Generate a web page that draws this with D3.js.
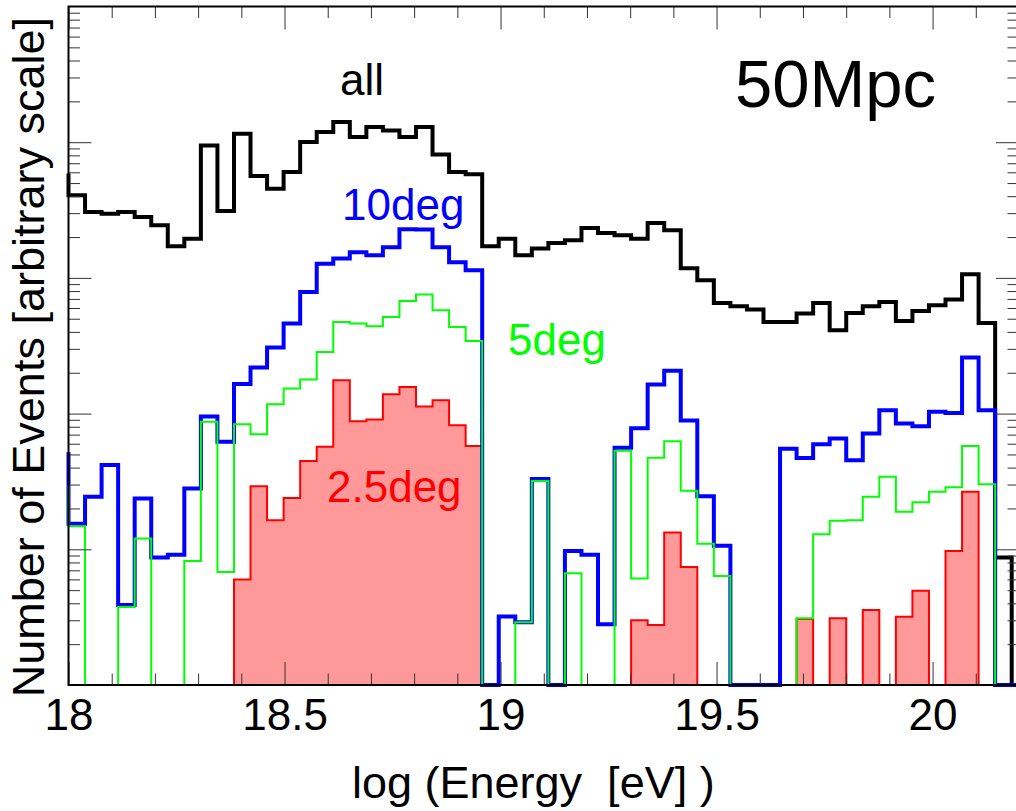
<!DOCTYPE html>
<html>
<head>
<meta charset="utf-8">
<script src="https://cdnjs.cloudflare.com/ajax/libs/d3/7.8.5/d3.min.js"></script>
<style>
body { margin: 0; background: #fff; }
svg text { font-family: "Liberation Sans", Arial, Helvetica, sans-serif; }
</style>
</head>
<body>
<div id="chart"></div>
<script>
// bins of width binWidth, the first entry is the bin just below 18
var binStart = 18 - 0.0383;
var binWidth = 0.0383;

var allEvents = [5890, 4057, 3055, 2975, 3055, 2809, 2440, 1709, 1947, 9470, 3109,
    11550, 5628, 4546, 6024, 10017, 11867, 14060, 10904, 12920, 12216, 10904, 12920,
    8132, 6024, 5794, 1709, 1947, 1467, 1644, 1807, 1892, 2331, 2141, 2059, 1947,
    2537, 2241, 1177, 960, 654, 618, 584, 474, 474, 546, 654, 411, 551, 618, 665,
    481, 571, 628, 692, 1063, 466, 8.7, 0];

var deg10 = [52, 15.4, 24.4, 41.8, 3.88, 23.7, 8.7, 9.1, 28, 95, 62,
    165, 219, 307, 461, 788, 1274, 1387, 1543, 1467, 1680, 2280, 2270,
    1680, 1303, 1138, 0, 3.2, 2.9, 33, 0, 9.7, 9.1, 2.8, 56, 78,
    164, 207, 89, 24.6, 10.6, 0, 0, 0, 55, 47, 59.5, 65.5, 45.4, 71.4, 106,
    84.6, 80.8, 103, 101, 259, 106, 0, 0];

var deg5 = [29.7, 14.8, 0, 0, 3.75, 12, 0, 0, 8.2, 87, 6.8,
    83.5, 70.5, 117, 153, 178, 285, 474, 461, 440, 515, 676, 753,
    577, 435, 343, 0, 0, 2.9, 31.8, 0, 6.65, 0, 0, 53.3, 6.1,
    47.3, 62.6, 27, 11, 6.35, 0, 0, 0, 0, 3.1, 12.9, 16.2, 16.4, 24.4, 34.2,
    18.9, 22.2, 26.5, 28.6, 57.8, 30.1, 0, 0];

var deg25 = [0, 0, 0, 0, 0, 0, 0, 0, 0, 0, 0,
    6.0, 29.2, 16.4, 23.9, 44.8, 56.9, 176, 87.9, 90.5, 139, 157, 113,
    125.5, 82, 57.8, 0, 0, 0, 0, 0, 0, 0, 0, 0, 3.0,
    2.77, 13.3, 7.4, 0, 0, 0, 0, 0, 0, 3.06, 0, 3.1, 0, 3.57, 0,
    3.18, 4.95, 0, 9.7, 26.5, 0, 0, 0];

var seriesNames = ["all", "10deg", "5deg", "2.5deg"];
var boxLabel = "50Mpc";
var xMajorTicks = [18, 18.5, 19, 19.5, 20];
var xTitle = "log (Energy  [eV] )";
var yTitle = "Number of Events [arbitrary scale]";

var width = 1016, height = 811;
var frame = {left: 68.5, right: 1019, top: 6.5, bottom: 685};

var svg = d3.select("#chart")
    .append("svg")
        .attr("width", width)
        .attr("height", height);

var x = d3.scaleLinear().domain([18, 20.2]).range([frame.left, frame.right]);
var y = d3.scaleLog().domain([1, 1e5]).range([frame.bottom, frame.top]);

svg.append("defs").append("clipPath")
    .attr("id", "plotclip")
    .append("rect")
        .attr("x", frame.left - 3)
        .attr("y", frame.top)
        .attr("width", frame.right - frame.left + 3)
        .attr("height", frame.bottom - frame.top + 3);

function stepPoints(values) {
    var pts = [];
    values.forEach(function (v, i) {
        var lo = binStart + i * binWidth;
        if (i === 0) {
            pts.push([18, v]);
        } else {
            pts.push([lo, v], [lo + binWidth, v]);
        }
    });
    return pts;
}

var stepLine = d3.line()
    .x(function (d) { return x(d[0]); })
    .y(function (d) { return y(Math.max(d[1], 1)); });

var stepArea = d3.area()
    .x(function (d) { return x(d[0]); })
    .y0(y(1))
    .y1(function (d) { return y(Math.max(d[1], 1)); });

var plot = svg.append("g").attr("clip-path", "url(#plotclip)");

plot.append("path")
    .attr("d", stepArea(stepPoints(deg25)))
    .attr("fill", "#ff9999")
    .attr("stroke", "none");

plot.append("path")
    .attr("d", stepLine(stepPoints(deg25)))
    .attr("fill", "none")
    .attr("stroke", "#ff0000")
    .attr("stroke-width", 2);

plot.append("path")
    .attr("d", stepLine(stepPoints(allEvents)))
    .attr("fill", "none")
    .attr("stroke", "#000")
    .attr("stroke-width", 4);

plot.append("path")
    .attr("d", stepLine(stepPoints(deg10)))
    .attr("fill", "none")
    .attr("stroke", "#0000ff")
    .attr("stroke-width", 4);

plot.append("path")
    .attr("d", stepLine(stepPoints(deg5)))
    .attr("fill", "none")
    .attr("stroke", "#00ff00")
    .attr("stroke-width", 2);

// ticks on all four sides, pointing inwards
var xMinorTicks = d3.range(181, 202).map(function (d) { return d / 10; })
    .filter(function (d) { return Math.round(d * 10) % 5 !== 0; });
var yMajorTicks = [10, 100, 1000, 10000];
var yMinorTicks = [];
for (var k = 0; k < 5; k++) {
    for (var m = 2; m < 10; m++) {
        yMinorTicks.push(m * Math.pow(10, k));
    }
}

function addAxis(axis, transform) {
    var g = svg.append("g")
        .attr("transform", transform)
        .call(axis);
    g.select(".domain").remove();
    g.selectAll(".tick line").attr("stroke", "#333").attr("stroke-width", 1);
    return g;
}

var xLabels = addAxis(d3.axisBottom(x).tickValues(xMajorTicks).tickSize(-23).tickPadding(14)
    .tickFormat(function (d) { return d; }), "translate(0," + frame.bottom + ")");
xLabels.selectAll(".tick text")
    .attr("font-size", 44)
    .attr("fill", "#000");

addAxis(d3.axisBottom(x).tickValues(xMinorTicks).tickSize(-11.5).tickFormat(""),
    "translate(0," + frame.bottom + ")");
addAxis(d3.axisTop(x).tickValues(xMajorTicks).tickSize(-23).tickFormat(""),
    "translate(0," + frame.top + ")");
addAxis(d3.axisTop(x).tickValues(xMinorTicks).tickSize(-11.5).tickFormat(""),
    "translate(0," + frame.top + ")");
addAxis(d3.axisLeft(y).tickValues(yMajorTicks).tickSize(-23).tickFormat(""),
    "translate(" + frame.left + ",0)");
addAxis(d3.axisLeft(y).tickValues(yMinorTicks).tickSize(-11.5).tickFormat(""),
    "translate(" + frame.left + ",0)");
addAxis(d3.axisRight(y).tickValues(yMajorTicks).tickSize(-23).tickFormat(""),
    "translate(" + frame.right + ",0)");
addAxis(d3.axisRight(y).tickValues(yMinorTicks).tickSize(-11.5).tickFormat(""),
    "translate(" + frame.right + ",0)");

svg.append("rect")
    .attr("x", frame.left)
    .attr("y", frame.top)
    .attr("width", frame.right - frame.left)
    .attr("height", frame.bottom - frame.top)
    .attr("fill", "none")
    .attr("stroke", "#000")
    .attr("stroke-width", 2);

// axis titles
svg.append("text")
    .attr("x", 352)
    .attr("y", 798)
    .attr("font-size", 45)
    .style("white-space", "pre")
    .text(xTitle);

svg.append("text")
    .attr("transform", "translate(44,17) rotate(-90)")
    .attr("text-anchor", "end")
    .attr("font-size", 45)
    .text(yTitle);

// curve labels
var labelPos = [
    {x: 340, y: 95, color: "#000"},
    {x: 342, y: 220, color: "#0000ff"},
    {x: 508, y: 355, color: "#00ff00"},
    {x: 327, y: 502, color: "#ff0000"}
];
seriesNames.forEach(function (name, i) {
    svg.append("text")
        .attr("x", labelPos[i].x)
        .attr("y", labelPos[i].y)
        .attr("font-size", 44)
        .attr("fill", labelPos[i].color)
        .text(name);
});

svg.append("text")
    .attr("x", 735)
    .attr("y", 107)
    .attr("font-size", 67)
    .text(boxLabel);
</script>
</body>
</html>
